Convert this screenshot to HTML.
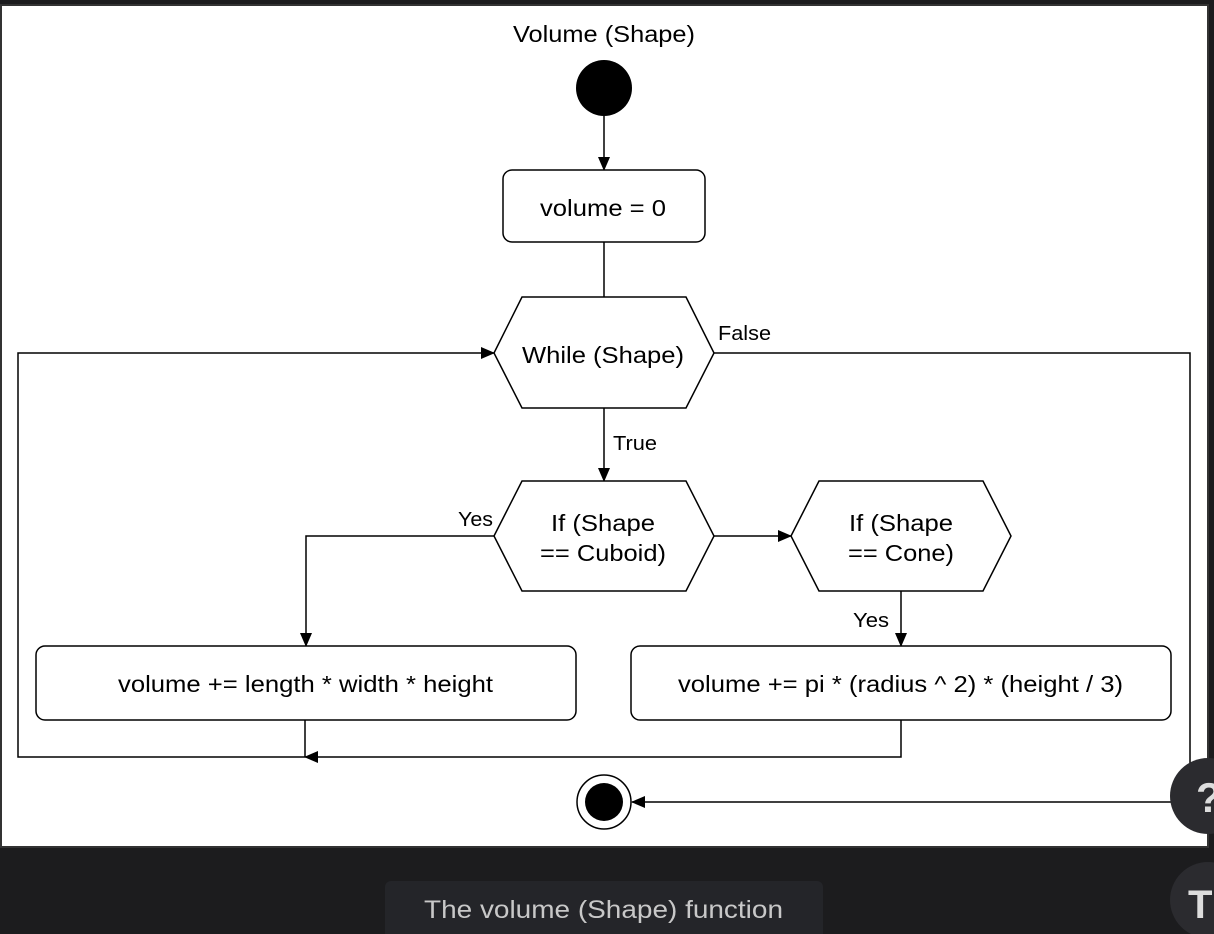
<!DOCTYPE html>
<html><head><meta charset="utf-8"><style>
html,body{margin:0;padding:0;background:#1c1c1e;width:1214px;height:934px;overflow:hidden;font-family:"Liberation Sans",Arial,sans-serif}
</style></head><body>
<svg width="1214" height="934" viewBox="0 0 1214 934" xmlns="http://www.w3.org/2000/svg" style="position:absolute;left:0;top:0">
<defs><marker id="a" markerWidth="14" markerHeight="12" refX="13" refY="6" orient="auto" markerUnits="userSpaceOnUse"><path d="M0,0 L14,6 L0,12 z" fill="#000"/></marker></defs>
<rect x="0" y="0" width="1214" height="934" fill="#1c1c1e"/>
<rect x="1" y="5" width="1207" height="842" fill="#fff" stroke="#333" stroke-width="2"/>
<circle cx="604" cy="88" r="28" fill="#000"/>
<g stroke="#000" stroke-width="1.5" fill="none">
<line x1="604" y1="116" x2="604" y2="170" marker-end="url(#a)"/>
<rect x="503" y="170" width="202" height="72" rx="9" fill="#fff"/>
<line x1="604" y1="242" x2="604" y2="297"/>
<polygon points="494,353 522,297 686,297 714,353 686,408 522,408" fill="#fff"/>
<polyline points="714,353 1190,353 1190,802 632,802" marker-end="url(#a)"/>
<polyline points="305,720 305,757"/>
<polyline points="901,720 901,757 305,757" marker-end="url(#a)"/>
<polyline points="305,757 18,757 18,353 494,353" marker-end="url(#a)"/>
<line x1="604" y1="408" x2="604" y2="481" marker-end="url(#a)"/>
<polygon points="494,536 522,481 686,481 714,536 686,591 522,591" fill="#fff"/>
<line x1="714" y1="536" x2="791" y2="536" marker-end="url(#a)"/>
<polygon points="791,536 819,481 983,481 1011,536 983,591 819,591" fill="#fff"/>
<polyline points="494,536 306,536 306,646" marker-end="url(#a)"/>
<line x1="901" y1="591" x2="901" y2="646" marker-end="url(#a)"/>
<rect x="36" y="646" width="540" height="74" rx="9" fill="#fff"/>
<rect x="631" y="646" width="540" height="74" rx="9" fill="#fff"/>
<circle cx="604" cy="802" r="27" fill="#fff"/>
</g>
<circle cx="604" cy="802" r="19" fill="#000"/>
<g font-family="Liberation Sans, Arial, sans-serif" fill="#000" font-size="23" lengthAdjust="spacingAndGlyphs">
<text x="513" y="42" textLength="182" lengthAdjust="spacingAndGlyphs">Volume (Shape)</text>
<text x="540" y="216" textLength="126" lengthAdjust="spacingAndGlyphs">volume = 0</text>
<text x="522" y="363" textLength="162" lengthAdjust="spacingAndGlyphs">While (Shape)</text>
<text x="718" y="340" font-size="20" textLength="53" lengthAdjust="spacingAndGlyphs">False</text>
<text x="613" y="450" font-size="20" textLength="44" lengthAdjust="spacingAndGlyphs">True</text>
<text x="551" y="531" textLength="104" lengthAdjust="spacingAndGlyphs">If (Shape</text>
<text x="540" y="561" textLength="126" lengthAdjust="spacingAndGlyphs">== Cuboid)</text>
<text x="849" y="531" textLength="104" lengthAdjust="spacingAndGlyphs">If (Shape</text>
<text x="848" y="561" textLength="106" lengthAdjust="spacingAndGlyphs">== Cone)</text>
<text x="458" y="526" font-size="20" textLength="35" lengthAdjust="spacingAndGlyphs">Yes</text>
<text x="853" y="627" font-size="20" textLength="36" lengthAdjust="spacingAndGlyphs">Yes</text>
<text x="118" y="692" textLength="375" lengthAdjust="spacingAndGlyphs">volume += length * width * height</text>
<text x="678" y="692" textLength="445" lengthAdjust="spacingAndGlyphs">volume += pi * (radius ^ 2) * (height / 3)</text>
</g>
<rect x="385" y="881" width="438" height="60" rx="6" fill="#242529"/>
<text x="424" y="918" font-size="25" fill="#c8c8c8" textLength="359" lengthAdjust="spacingAndGlyphs" font-family="Liberation Sans, Arial, sans-serif">The volume (Shape) function</text>
<circle cx="1208" cy="796" r="38" fill="#2b2b2f"/>
<text x="1196" y="812" font-size="42" font-weight="bold" fill="#ddd" font-family="Liberation Sans, Arial, sans-serif">?</text>
<circle cx="1208" cy="900" r="38" fill="#2b2b2f"/>
<text x="1188" y="918" font-size="40" font-weight="bold" fill="#ddd" font-family="Liberation Sans, Arial, sans-serif">T</text>
</svg>
</body></html>
